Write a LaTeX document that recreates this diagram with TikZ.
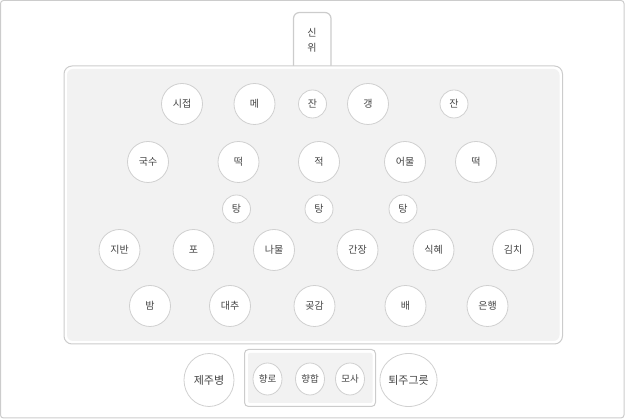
\documentclass[tikz,border=0pt]{standalone}
\usepackage{fontspec}
\newfontfamily\kr{Noto Sans CJK KR}
\usetikzlibrary{shapes.geometric}
\definecolor{frame}{HTML}{CCCCCC}
\definecolor{panelfill}{HTML}{F2F2F2}
\definecolor{dishline}{HTML}{D0D0D0}
\definecolor{txt}{HTML}{444444}
\tikzset{
  dish/.style={circle,draw=dishline,fill=white,line width=0.8pt,minimum size=41pt,inner sep=0pt,
    font=\kr\fontsize{10}{12}\selectfont,text=txt},
  smalldish/.style={dish,minimum size=28pt},
  bigdish/.style={dish,shape=ellipse,minimum width=50pt,minimum height=53pt,font=\kr\fontsize{11}{13}\selectfont},
  tinydish/.style={dish,shape=ellipse,minimum width=29pt,minimum height=32pt,font=\kr\fontsize{9.5}{11}\selectfont}
}
\begin{document}
\begin{tikzpicture}[x=1pt,y=-1pt]
\useasboundingbox (0,0) rectangle (625,419);
% outer frame
\draw[frame,line width=1pt,rounded corners=3pt] (0.5,0.5) rectangle (624,418);
% tab
\draw[frame,fill=white,line width=1.2pt] (293.5,66) -- (293.5,18) [rounded corners=6pt] -- (293.5,12.5) -- (331,12.5) [sharp corners] -- (331,66);
\node[font=\kr\fontsize{10}{15}\selectfont,text=txt,align=center] (tab) at (312,40.5) {신\\위};
% main panel
\draw[frame,fill=white,line width=1pt,rounded corners=8pt] (64,66) rectangle (562.5,344);
\fill[panelfill,rounded corners=6pt] (67,69) rectangle (559.5,341);
% row 1
\node[dish] (sijeop) at (182,104) {시접};
\node[dish] (me) at (254.5,104) {메};
\node[smalldish] (jan1) at (312.5,104) {잔};
\node[dish] (gaeng) at (368,104) {갱};
\node[smalldish] (jan2) at (454,104) {잔};
% row 2
\node[dish] (guksu) at (148,162) {국수};
\node[dish] (tteok1) at (238.5,162) {떡};
\node[dish] (jeok) at (319,162) {적};
\node[dish] (eomul) at (405,162) {어물};
\node[dish] (tteok2) at (476,162) {떡};
% row 3
\node[smalldish] (tang1) at (236.5,209) {탕};
\node[smalldish] (tang2) at (319,209) {탕};
\node[smalldish] (tang3) at (403,209) {탕};
% row 4
\node[dish] (jiban) at (119.5,250) {지반};
\node[dish] (po) at (193.5,250) {포};
\node[dish] (namul) at (274,250) {나물};
\node[dish] (ganjang) at (357.5,250) {간장};
\node[dish] (sikhye) at (433.5,250) {식혜};
\node[dish] (kimchi) at (513,250) {김치};
% row 5
\node[dish] (bam) at (150,306) {밤};
\node[dish] (daechu) at (230,306) {대추};
\node[dish] (gotgam) at (314.5,306) {곶감};
\node[dish] (bae) at (405.5,306) {배};
\node[dish] (eunhaeng) at (487.5,306) {은행};
% bottom
\node[bigdish] (jejubyeong) at (209,380) {제주병};
\draw[frame,fill=white,line width=1pt,rounded corners=4pt] (244.5,349.5) rectangle (375.5,406.5);
\fill[panelfill,rounded corners=2pt] (248,353) rectangle (372.5,403);
\node[tinydish] (hyangno) at (267.5,379) {향로};
\node[tinydish] (hyanghap) at (310,379) {향합};
\node[tinydish] (mosa) at (350,379) {모사};
\node[bigdish] (toeju) at (408.5,380) {퇴주그릇};
\end{tikzpicture}
\end{document}
